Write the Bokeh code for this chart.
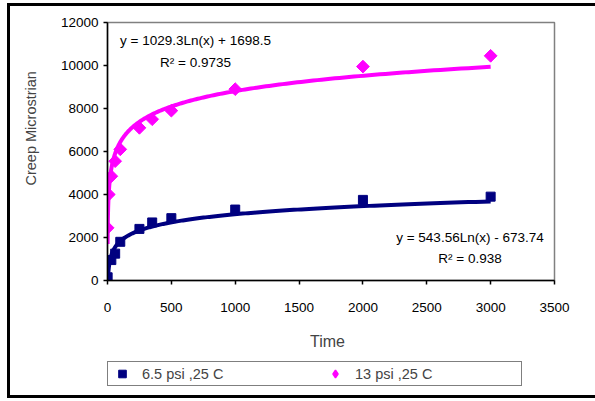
import numpy as np
from bokeh.plotting import figure
from bokeh.layouts import column
from bokeh.models import (Range1d, FixedTicker, Label, Legend, LegendItem,
                          Title, ColumnDataSource)
from bokeh.embed import file_html
from bokeh.resources import INLINE

# Creep test readings: time vs. creep microstrain
time_low = [1, 30, 60, 100, 250, 350, 500, 1000, 2000, 3000]
strain_low = [150, 950, 1250, 1800, 2400, 2700, 2900, 3300, 3750, 3900]

time_high = [1, 10, 30, 60, 100, 250, 350, 500, 1000, 2000, 3000]
strain_high = [2450, 4000, 4850, 5550, 6100, 7100, 7500, 7900, 8900, 9950, 10450]

series_names = ["6.5 psi ,25 C", "13 psi ,25 C"]

# Logarithmic trend lines y = a*ln(x) + b
fit_low = (543.56, -673.74, 0.938)
fit_high = (1029.3, 1698.5, 0.9735)

x_ticks = [0, 500, 1000, 1500, 2000, 2500, 3000, 3500]
y_ticks = [0, 2000, 4000, 6000, 8000, 10000, 12000]

NAVY = "#000080"
MAGENTA = "#FF00FF"
FONT = "Liberation Sans"

# heavy chart frame, drawn in two parts (open on the right)
top_css = """
:host::after {
  content: ""; position: absolute; pointer-events: none;
  left: 7px; top: 3px; right: 0px; bottom: 0px;
  border-left: 3px solid black; border-top: 3px solid black;
}
"""
bottom_css = """
:host::after {
  content: ""; position: absolute; pointer-events: none;
  left: 7px; top: 0px; right: 0px; bottom: 3px;
  border-left: 3px solid black; border-bottom: 3px solid black;
}
"""

p = figure(frame_width=447, frame_height=258, output_backend="svg",
           toolbar_location=None,
           x_range=Range1d(0, 3500), y_range=Range1d(0, 12000),
           min_border_left=107, min_border_right=41,
           min_border_top=22, min_border_bottom=40)
p.stylesheets = [top_css]
p.background_fill_color = "white"
p.border_fill_color = "white"
p.outline_line_color = "#808080"
p.outline_line_width = 1.5
p.xgrid.visible = False
p.ygrid.visible = False

for ax in (p.xaxis[0], p.yaxis[0]):
    ax.axis_line_color = "black"
    ax.axis_line_width = 1.5
    ax.major_tick_line_color = "black"
    ax.major_tick_line_width = 1.5
    ax.major_tick_out = 4
    ax.major_tick_in = 0
    ax.minor_tick_line_color = None
    ax.major_label_text_font = FONT
    ax.major_label_text_font_size = "13.5px"
    ax.major_label_text_color = "black"

p.xaxis.ticker = FixedTicker(ticks=x_ticks)
p.yaxis.ticker = FixedTicker(ticks=y_ticks)
p.xaxis.major_label_standoff = 18
p.yaxis.major_label_standoff = 5

# trend curves from the fitted equations
xs = np.geomspace(1, 3000, 400)
p.line(xs, fit_low[0] * np.log(xs) + fit_low[1], line_color=NAVY, line_width=4)
p.line(xs, fit_high[0] * np.log(xs) + fit_high[1], line_color=MAGENTA, line_width=4)

src_low = ColumnDataSource(dict(x=time_low, y=strain_low))
src_high = ColumnDataSource(dict(x=time_high, y=strain_high))
marker_low = dict(marker="square", size=9, fill_color=NAVY, line_color=NAVY)
p.scatter("x", "y", source=src_low, **marker_low)
p.scatter("x", "y", source=src_high, marker="square", size=9, angle=np.pi / 4,
          fill_color=MAGENTA, line_color=MAGENTA)

# equation annotations
def eq_text(a, b):
    sign = "+" if b >= 0 else "-"
    return f"y = {a:g}Ln(x) {sign} {abs(b):g}"

for txt, x, y in [(eq_text(*fit_high[:2]), 689, 11163),
                  (f"R\u00b2 = {fit_high[2]:g}", 689, 10140),
                  (eq_text(*fit_low[:2]), 2838, 2000),
                  (f"R\u00b2 = {fit_low[2]:g}", 2838, 1023)]:
    p.add_layout(Label(x=x, y=y, text=txt, text_font=FONT,
                       text_font_size="13.5px", text_align="center",
                       text_baseline="middle", text_color="black"))

# y axis title
p.add_layout(Title(text="Creep Microstrian", align="left", offset=95,
                   standoff=38, text_font=FONT, text_font_size="14.5px",
                   text_font_style="normal"), "left")

# strip under the chart: x axis title and legend
leg = figure(width=595, height=81, output_backend="svg", toolbar_location=None,
             x_range=Range1d(-2, -1), y_range=Range1d(-2, -1),
             min_border=0)
leg.stylesheets = [bottom_css]
leg.axis.visible = False
leg.grid.visible = False
leg.outline_line_color = None
leg.background_fill_color = "white"
leg.border_fill_color = "white"

leg.add_layout(Label(x=220, y=60, x_units="screen", y_units="screen",
                     text="Time", text_font=FONT, text_font_size="16px",
                     text_align="center", text_baseline="middle"))

# same series in the strip (outside its ranges) so the legend can draw them
g_low = leg.scatter("x", "y", source=src_low, **marker_low)
g_high = leg.scatter("x", "y", source=src_high, marker="diamond", size=13,
                     fill_color=MAGENTA, line_color=MAGENTA, line_width=1.5)

legend = Legend(items=[LegendItem(label=series_names[0], renderers=[g_low]),
                       LegendItem(label=series_names[1], renderers=[g_high])],
                location=(0, 15), orientation="horizontal", margin=0,
                padding=2, spacing=17, glyph_width=24, glyph_height=19,
                label_standoff=8, label_width=164,
                label_text_font=FONT, label_text_font_size="14.5px",
                border_line_color="black", border_line_width=1.5,
                background_fill_color="white", background_fill_alpha=1.0)
leg.add_layout(legend)

layout = column(p, leg, spacing=0)
open("out.html", "w").write(file_html(layout, INLINE))
